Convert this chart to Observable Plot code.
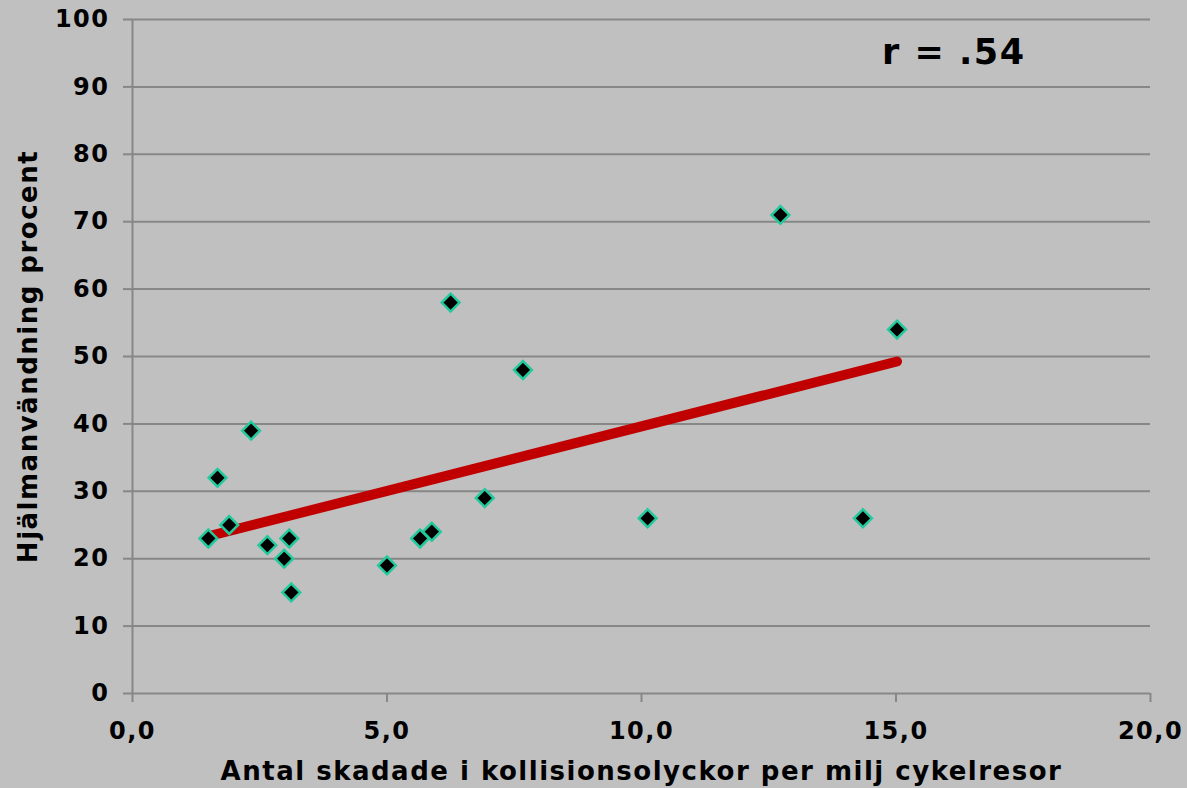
<!DOCTYPE html>
<html>
<head>
<meta charset="utf-8">
<script src="https://cdn.jsdelivr.net/npm/d3@7"></script>
<script src="https://cdn.jsdelivr.net/npm/@observablehq/plot@0.6"></script>
<style>
  html, body { margin: 0; padding: 0; background: #c0c0c0; }
  #chart svg { display: block; }
</style>
</head>
<body>
<div id="chart"></div>
<script>
// Data
const injuries = [1.49, 1.67, 1.90, 2.33, 2.65, 2.98, 3.08, 3.12, 5.00, 5.65, 5.88, 6.25, 6.92, 7.67, 10.12, 12.73, 14.35, 15.02];
const helmetUse = [23, 32, 25, 39, 22, 20, 23, 15, 19, 23, 24, 58, 29, 48, 26, 71, 26, 54];
const xTicks = [0, 5, 10, 15, 20];
const yTicks = [0, 10, 20, 30, 40, 50, 60, 70, 80, 90, 100];
const xTitle = "Antal skadade i kollisionsolyckor per milj cykelresor";
const yTitle = "Hjälmanvändning procent";
const annotation = ["r = .54"];

const data = injuries.map((x, i) => ({x, y: helmetUse[i]}));
const grey = "#878787";

const chart = Plot.plot({
  width: 1187,
  height: 788,
  marginLeft: 132,
  marginRight: 37,
  marginTop: 19,
  marginBottom: 95,
  style: {background: "#c0c0c0", fontFamily: "'DejaVu Sans', Verdana, sans-serif", fontWeight: "bold"},
  x: {domain: [0, 20], label: null},
  y: {domain: [0, 100], label: null},
  marks: [
    Plot.gridY(yTicks, {stroke: grey, strokeOpacity: 1, strokeWidth: 2}),
    Plot.ruleX([0], {stroke: grey, strokeWidth: 2}),
    Plot.axisY(yTicks, {tickSize: 9, tickPadding: 14, fontSize: 24, stroke: grey, strokeWidth: 2, fill: "black", label: null}),
    Plot.axisX(xTicks, {tickSize: 9, tickPadding: 19, fontSize: 24, stroke: grey, strokeWidth: 2, fill: "black", label: null,
      tickFormat: d => d.toFixed(1).replace(".", ",")}),
    Plot.linearRegressionY(data, {x: "x", y: "y", ci: 0, stroke: "#c00000", strokeWidth: 10, strokeLinecap: "round"}),
    Plot.dot(data, {x: "x", y: "y", symbol: "diamond2", r: 8, fill: "black", stroke: "#22c99c", strokeWidth: 2.5}),
    Plot.text([xTitle], {frameAnchor: "bottom", dy: 86, fontSize: 26, fill: "black", fontWeight: "bold"}),
    Plot.text([yTitle], {frameAnchor: "left", dx: -104, rotate: -90, textAnchor: "middle", fontSize: 26, fill: "black", fontWeight: "bold"}),
    Plot.text(annotation, {frameAnchor: "top-right", dx: -125, dy: 20, fontSize: 35, fill: "black", fontWeight: "bold", textAnchor: "end"})
  ]
});
chart.querySelectorAll("text").forEach(t => t.setAttribute("letter-spacing", "1.5"));
document.getElementById("chart").appendChild(chart);
</script>
</body>
</html>
